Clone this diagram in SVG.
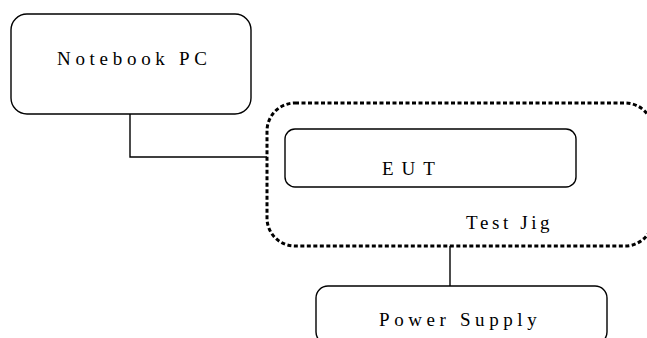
<svg xmlns="http://www.w3.org/2000/svg" width="647" height="338" viewBox="0 0 647 338">
<style>
.box{fill:#fff;stroke:#000;stroke-width:1.4}
.jig{fill:none;stroke:#000;stroke-width:3;stroke-dasharray:4 2.5}
.lbl{font-family:"Liberation Serif","Times New Roman",serif;font-size:19px;fill:#000}
.wire{fill:none;stroke:#000;stroke-width:1.4}
</style>
<rect width="647" height="338" fill="#fff"/>
<g id="connectors">
<polyline class="wire" points="130,114 130,157 267,157"/>
<line class="wire" x1="450" y1="246" x2="450" y2="286"/>
</g>
<g id="notebook">
<rect class="box" x="11" y="14" width="240" height="100" rx="16"/>
<text class="lbl" x="57" y="65" letter-spacing="4.7">Notebook PC</text>
</g>
<g id="testjig">
<rect class="jig" x="267" y="103" width="386" height="143" rx="28"/>
<text class="lbl" x="466" y="229" letter-spacing="3.6">Test Jig</text>
</g>
<g id="eut">
<rect class="box" x="285" y="129" width="291" height="58" rx="10"/>
<text class="lbl" x="382" y="175" letter-spacing="8">EUT</text>
</g>
<g id="power">
<rect class="box" x="316" y="286" width="291" height="58" rx="12"/>
<text class="lbl" x="379" y="326" letter-spacing="4.6">Power Supply</text>
</g>
</svg>
